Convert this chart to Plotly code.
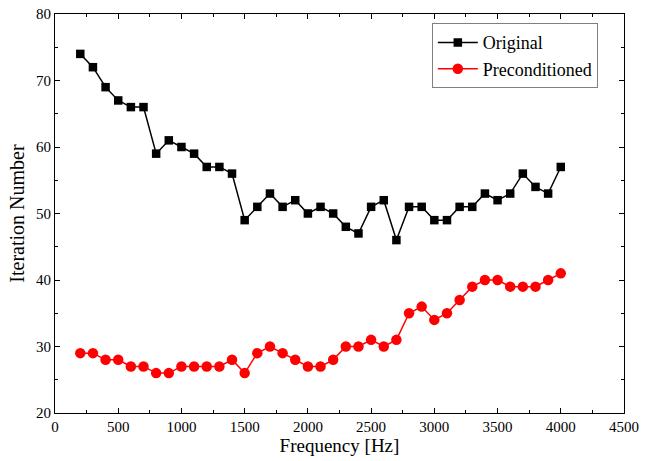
import plotly.graph_objects as go

# Frequency sweep (Hz)
frequency = [200, 300, 400, 500, 600, 700, 800, 900, 1000, 1100, 1200, 1300, 1400,
             1500, 1600, 1700, 1800, 1900, 2000, 2100, 2200, 2300, 2400, 2500, 2600,
             2700, 2800, 2900, 3000, 3100, 3200, 3300, 3400, 3500, 3600, 3700, 3800,
             3900, 4000]

# Iteration counts of the solver
original = [74, 72, 69, 67, 66, 66, 59, 61, 60, 59, 57, 57, 56,
            49, 51, 53, 51, 52, 50, 51, 50, 48, 47, 51, 52,
            46, 51, 51, 49, 49, 51, 51, 53, 52, 53, 56, 54,
            53, 57]
preconditioned = [29, 29, 28, 28, 27, 27, 26, 26, 27, 27, 27, 27, 28,
                  26, 29, 30, 29, 28, 27, 27, 28, 30, 30, 31, 30,
                  31, 35, 36, 34, 35, 37, 39, 40, 40, 39, 39, 39,
                  40, 41]

x_ticks = [0, 500, 1000, 1500, 2000, 2500, 3000, 3500, 4000, 4500]
y_ticks = [20, 30, 40, 50, 60, 70, 80]

FONT = "Liberation Serif"

fig = go.Figure()
fig.add_trace(go.Scatter(
    x=frequency, y=original, name="Original", mode="lines+markers",
    line=dict(color="black", width=1.5),
    marker=dict(symbol="square", size=8.5, color="black"),
))
fig.add_trace(go.Scatter(
    x=frequency, y=preconditioned, name="Preconditioned", mode="lines+markers",
    line=dict(color="#ff0000", width=1.5),
    marker=dict(symbol="circle", size=10.5, color="#ff0000"),
))

axis_common = dict(
    showline=True, linecolor="black", linewidth=1, mirror="ticks",
    ticks="inside", ticklen=5, tickwidth=1, tickcolor="black",
    showgrid=False, zeroline=False, automargin=False,
    tickfont=dict(family=FONT, size=15, color="black"),
)

fig.update_xaxes(
    range=[0, 4500], tickvals=x_ticks, ticktext=[str(v) for v in x_ticks],
    minor=dict(dtick=250, ticks="inside", ticklen=3, tickcolor="black", showgrid=False),
    title=dict(text="Frequency [Hz]", font=dict(family=FONT, size=19, color="black"),
               standoff=4),
    **axis_common,
)
fig.update_yaxes(
    range=[20, 80], tickvals=y_ticks, ticktext=[str(v) for v in y_ticks],
    minor=dict(dtick=5, ticks="inside", ticklen=3, tickcolor="black", showgrid=False),
    title=dict(text="Iteration Number", font=dict(family=FONT, size=20, color="black"),
               standoff=6),
    **axis_common,
)

fig.update_layout(
    width=650, height=461,
    margin=dict(l=55, r=26, t=14, b=48),
    paper_bgcolor="white", plot_bgcolor="white",
    font=dict(family=FONT, color="black"),
    legend=dict(
        x=0.954, y=0.977, xanchor="right", yanchor="top",
        bgcolor="white", bordercolor="#808080", borderwidth=1,
        font=dict(family=FONT, size=18, color="black"),
        itemwidth=40, tracegroupgap=0,
    ),
    showlegend=True,
)

fig.write_html("out.html")
